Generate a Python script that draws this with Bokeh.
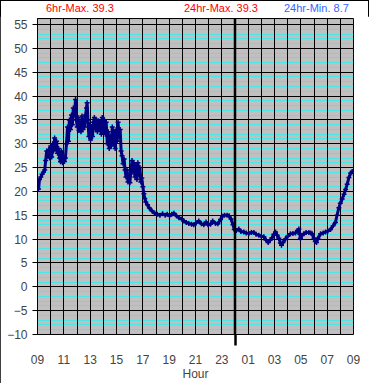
from bokeh.plotting import figure
from bokeh.models import FixedTicker, SingleIntervalTicker, Span, Range1d, Grid, Div
from bokeh.layouts import column
from bokeh.embed import file_html
from bokeh.resources import INLINE

# hours after 09:00 (0..24) and temperature readings
hours = [0.00, 0.08, 0.15, 0.25, 0.35, 0.45, 0.55, 0.62, 0.70, 0.78, 0.85, 0.92, 1.00, 1.08, 1.15,
         1.22, 1.30, 1.38, 1.45, 1.52, 1.60, 1.68, 1.75, 1.82, 1.90, 1.98, 2.05, 2.12, 2.20, 2.28,
         2.35, 2.42, 2.50, 2.58, 2.65, 2.72, 2.80, 2.89, 2.95, 3.02, 3.08, 3.15, 3.22, 3.30, 3.38,
         3.45, 3.52, 3.58, 3.65, 3.72, 3.77, 3.83, 3.90, 3.97, 4.03, 4.10, 4.18, 4.25, 4.32, 4.40,
         4.48, 4.55, 4.62, 4.70, 4.78, 4.85, 4.92, 5.00, 5.08, 5.15, 5.22, 5.30, 5.37, 5.45, 5.52,
         5.60, 5.68, 5.75, 5.82, 5.90, 5.98, 6.05, 6.12, 6.20, 6.28, 6.35, 6.42, 6.50, 6.58, 6.65,
         6.72, 6.80, 6.87, 6.95, 7.02, 7.10, 7.18, 7.25, 7.32, 7.40, 7.48, 7.55, 7.62, 7.70, 7.78,
         7.85, 7.92, 8.00, 8.08, 8.15, 8.22, 8.35, 8.50, 8.70, 8.90, 9.10, 9.30, 9.50, 9.70, 9.85,
         10.03, 10.20, 10.36, 10.55, 10.74, 10.95, 11.12, 11.30, 11.49, 11.70, 11.87, 12.05, 12.25,
         12.45, 12.63, 12.80, 12.95, 13.14, 13.30, 13.52, 13.70, 13.90, 14.05, 14.20, 14.40, 14.55,
         14.70, 14.85, 14.95, 15.10, 15.29, 15.45, 15.67, 15.85, 16.05, 16.25, 16.43, 16.60, 16.81,
         17.00, 17.19, 17.35, 17.52, 17.68, 17.82, 17.95, 18.08, 18.20, 18.33, 18.45, 18.53, 18.65,
         18.83, 19.00, 19.21, 19.40, 19.59, 19.75, 19.85, 19.92, 19.97, 20.10, 20.23, 20.40, 20.61,
         20.75, 20.86, 21.00, 21.10, 21.19, 21.30, 21.50, 21.70, 21.88, 22.05, 22.25, 22.45, 22.63,
         22.75, 22.89, 23.00, 23.14, 23.28, 23.40, 23.52, 23.65, 23.78, 23.90, 24.00]
temps = [21.0, 20.5, 22.5, 23.0, 23.6, 24.0, 24.5, 26.5, 28.5, 27.5, 28.8, 27.0, 29.5, 27.2, 30.0,
         28.5, 31.2, 29.0, 30.5, 28.0, 29.0, 27.0, 26.2, 28.5, 26.0, 27.5, 26.3, 27.0, 30.0, 33.5,
         30.5, 35.0, 33.0, 36.0, 34.0, 37.5, 36.0, 39.3, 35.0, 33.5, 35.5, 32.8, 34.5, 32.5, 35.8,
         33.0, 35.0, 33.5, 36.0, 37.5, 38.6, 35.0, 31.5, 34.0, 30.8, 33.5, 31.5, 34.5, 35.5, 33.0,
         35.0, 32.5, 34.8, 33.0, 34.5, 32.0, 35.5, 33.0, 35.0, 32.0, 34.5, 30.0, 32.5, 29.0, 31.5,
         29.5, 33.5, 30.0, 32.5, 29.0, 33.0, 30.5, 34.5, 31.5, 33.0, 28.5, 27.5, 25.8, 26.8, 24.5,
         23.0, 24.5, 22.0, 23.5, 21.8, 24.5, 26.5, 24.0, 26.0, 23.0, 25.5, 22.5, 26.0, 23.5, 25.0,
         22.0, 22.8, 21.0, 19.5, 18.5, 17.8, 17.2, 16.5, 15.9, 15.4, 15.2, 15.0, 15.3, 15.0, 15.2,
         14.9, 15.2, 15.4, 14.9, 14.5, 14.2, 13.8, 13.5, 13.3, 13.1, 13.0, 13.4, 13.8,
         13.2, 13.0, 13.6, 13.0, 13.1, 13.8, 13.3, 13.2, 14.1, 14.8, 15.0, 15.0, 14.9,
         14.2, 13.0, 12.0, 11.8, 12.1, 11.6, 11.5, 11.3, 11.2, 11.4, 11.4, 11.0, 10.8,
         10.6, 10.5, 9.8, 9.3, 9.8, 10.3, 11.0, 11.5, 10.8, 10.2, 9.2, 8.7, 9.3,
         10.0, 10.6, 11.1, 11.2, 11.3, 11.8, 12.1, 11.0, 10.2, 10.8, 11.1, 11.4, 11.4,
         11.3, 11.1, 10.2, 9.5, 9.3, 10.2, 11.1, 11.3, 11.5, 11.7, 12.0, 12.8, 13.5,
         15.0, 16.6, 17.5, 18.4, 19.4, 20.4, 21.5, 22.9, 23.8, 24.2, 23.8]

x_ticks = list(range(0, 25, 2))
x_tick_labels = ["09", "11", "13", "15", "17", "19", "21", "23", "01", "03", "05", "07", "09"]
midnight = 15
stat_texts = ["6hr-Max. 39.3", "24hr-Max. 39.3", "24hr-Min. 8.7"]
stat_colors = ["#ff0000", "#ff0000", "#3366ff"]
stat_left_px = [46, 184, 284]

FONT = "Liberation Sans"
NAVY = "#000080"

p = figure(frame_width=316, frame_height=316, title=None,
           x_range=Range1d(0, 24), y_range=Range1d(-10, 56.26),
           output_backend="svg", toolbar_location=None,
           min_border_left=37, min_border_right=16, min_border_top=2, min_border_bottom=38,
           background_fill_color="#c0c0c0", border_fill_color="white",
           outline_line_color="black", outline_line_width=1, margin=(0, 0, 0, 0))

# axes
p.xaxis.ticker = FixedTicker(ticks=x_ticks, minor_ticks=[midnight])
p.xaxis.major_label_overrides = {t: l for t, l in zip(x_ticks, x_tick_labels)}
p.xaxis.major_tick_out = 0
p.xaxis.major_tick_in = 0
p.xaxis.minor_tick_out = 11
p.xaxis.minor_tick_in = 0
p.xaxis.minor_tick_line_width = 2.5
p.xaxis.minor_tick_line_color = "black"
p.xaxis.axis_line_color = None
p.xaxis.major_label_standoff = 9
p.xaxis.axis_label = "Hour"
p.xaxis.axis_label_standoff = 0
p.xaxis.axis_label_text_font_style = "normal"
p.xaxis.axis_label_text_font_size = "12px"
p.xaxis.axis_label_text_font = FONT
p.xaxis.major_label_text_font_size = "12px"
p.xaxis.major_label_text_font = FONT

p.yaxis.ticker = SingleIntervalTicker(interval=5)
p.yaxis.major_tick_out = 5
p.yaxis.major_tick_in = 0
p.yaxis.minor_tick_line_color = None
p.yaxis.axis_line_color = "black"
p.yaxis.major_label_standoff = 5
p.yaxis.major_label_text_font_size = "12px"
p.yaxis.major_label_text_font = FONT

# grids
cyan_grid = Grid(dimension=1, ticker=SingleIntervalTicker(interval=1),
                 grid_line_color="#00ffff", grid_line_alpha=0.6, grid_line_width=1.2)
p.xgrid.ticker = FixedTicker(ticks=list(range(0, 25)))
p.xgrid.grid_line_color = "black"
p.xgrid.grid_line_width = 1
p.ygrid.grid_line_color = "black"
p.ygrid.grid_line_width = 1
p.center = [cyan_grid] + list(p.center)

p.add_layout(Span(location=midnight, dimension="height", line_color="black", line_width=2.5))

p.line(hours, temps, line_color=NAVY, line_width=3)
p.scatter(hours, temps, marker="cross", size=5, line_color=NAVY, line_width=1.5)

spans = "".join(
    f'<span style="position:absolute;left:{x}px;top:2px;color:{c};white-space:nowrap;">{t}</span>'
    for t, c, x in zip(stat_texts, stat_colors, stat_left_px))
header = Div(text=f'<div style="position:relative;width:369px;height:16px;'
                  f'font-family:\'{FONT}\';font-size:11px;line-height:13px;">{spans}</div>',
             width=369, height=16, margin=(0, 0, 0, 0))

layout = column(header, p, spacing=0, margin=(0, 0, 0, 0),
                styles={"outline": "1px solid black", "outline-offset": "-1px",
                        "background-color": "white"})

open("out.html", "w").write(file_html(layout, INLINE))
